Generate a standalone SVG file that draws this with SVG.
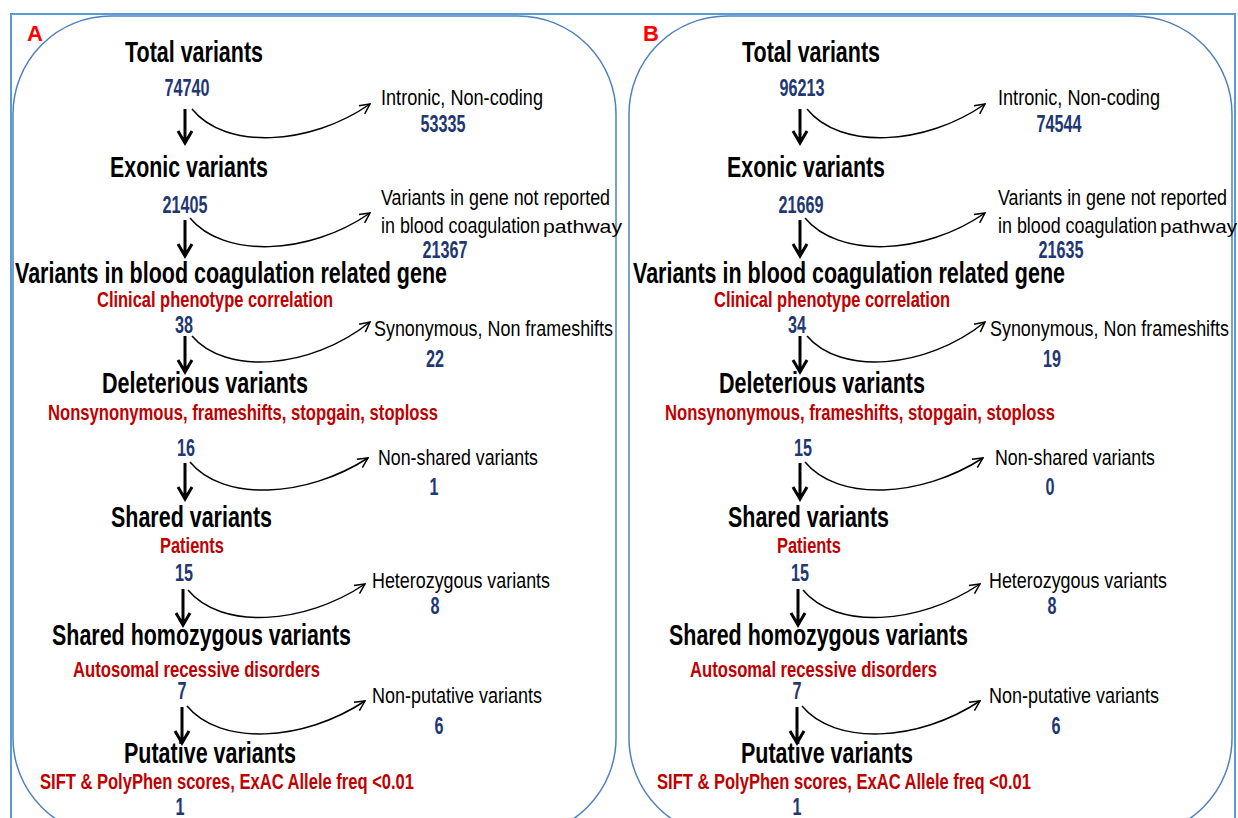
<svg xmlns="http://www.w3.org/2000/svg" width="1238" height="818" viewBox="0 0 1238 818">
<defs>
<marker id="open" viewBox="0 0 12 12" refX="11" refY="6" markerWidth="12" markerHeight="12" markerUnits="userSpaceOnUse" orient="auto">
<path d="M1,1 L11,6 L1,11" fill="none" stroke="#000" stroke-width="1.5"/>
</marker>
<style>
.frame{fill:none;stroke:#5b9bd5;stroke-width:2}
.panel{fill:none;stroke:#4f81bd;stroke-width:1.5}
.lbl{font-family:"Liberation Sans",Arial,sans-serif;font-weight:bold;fill:#ff0000;font-size:22px}
.ttl{font-family:"Liberation Sans",Arial,sans-serif;font-weight:bold;fill:#000;font-size:29px}
.sub{font-family:"Liberation Sans",Arial,sans-serif;font-weight:bold;fill:#c00000;font-size:22px}
.num{font-family:"Liberation Sans",Arial,sans-serif;font-weight:bold;fill:#1f3873;font-size:23px;text-anchor:middle}
.side{font-family:"Liberation Sans",Arial,sans-serif;fill:#000;font-size:22px}
.pw{font-family:"Liberation Sans",Arial,sans-serif;fill:#000;font-size:19px}
.down{fill:none;stroke:#000;stroke-width:3}
.curve{fill:none;stroke:#000;stroke-width:1.5;marker-end:url(#open)}
</style>
</defs>
<rect width="1238" height="818" fill="#fff"/>
<rect class="frame" x="11" y="14" width="1224" height="830"/>
<rect class="panel" x="13" y="16" width="603" height="820" rx="98" ry="98"/>
<rect class="panel" x="629" y="16" width="603" height="820" rx="98" ry="98"/>
<text class="lbl" x="27" y="41">A</text>
<text class="lbl" x="643" y="41">B</text>

<g id="panelA">
<g id="a_total"><text class="ttl" x="125" y="62" textLength="138" lengthAdjust="spacingAndGlyphs">Total variants</text><text class="num" x="187" y="96" textLength="45" lengthAdjust="spacingAndGlyphs">74740</text></g>
<g id="a_intronic"><text class="side" x="381" y="105" textLength="162" lengthAdjust="spacingAndGlyphs">Intronic, Non-coding</text><text class="num" x="443" y="132" textLength="45" lengthAdjust="spacingAndGlyphs">53335</text></g>
<g id="a_exonic"><text class="ttl" x="110" y="177" textLength="158" lengthAdjust="spacingAndGlyphs">Exonic variants</text><text class="num" x="185" y="213" textLength="45" lengthAdjust="spacingAndGlyphs">21405</text></g>
<g id="a_notrep"><text class="side" x="381" y="205" textLength="229" lengthAdjust="spacingAndGlyphs">Variants in gene not reported</text><text class="side" x="381" y="233" textLength="159" lengthAdjust="spacingAndGlyphs">in blood coagulation</text><text class="pw" x="543" y="233" textLength="79" lengthAdjust="spacingAndGlyphs">pathway</text><text class="num" x="445" y="258" textLength="45" lengthAdjust="spacingAndGlyphs">21367</text></g>
<g id="a_blood"><text class="ttl" x="15" y="283" textLength="432" lengthAdjust="spacingAndGlyphs">Variants in blood coagulation related gene</text><text class="sub" x="97" y="307" textLength="236" lengthAdjust="spacingAndGlyphs">Clinical phenotype correlation</text><text class="num" x="184" y="333" textLength="18" lengthAdjust="spacingAndGlyphs">38</text></g>
<g id="a_syn"><text class="side" x="374" y="336" textLength="239" lengthAdjust="spacingAndGlyphs">Synonymous, Non frameshifts</text><text class="num" x="435" y="367" textLength="18" lengthAdjust="spacingAndGlyphs">22</text></g>
<g id="a_del"><text class="ttl" x="102" y="393" textLength="206" lengthAdjust="spacingAndGlyphs">Deleterious variants</text><text class="sub" x="48" y="420" textLength="390" lengthAdjust="spacingAndGlyphs">Nonsynonymous, frameshifts, stopgain, stoploss</text><text class="num" x="186" y="456" textLength="18" lengthAdjust="spacingAndGlyphs">16</text></g>
<g id="a_nonshared"><text class="side" x="378" y="465" textLength="160" lengthAdjust="spacingAndGlyphs">Non-shared variants</text><text class="num" x="434" y="495" textLength="9" lengthAdjust="spacingAndGlyphs">1</text></g>
<g id="a_shared"><text class="ttl" x="111" y="527" textLength="161" lengthAdjust="spacingAndGlyphs">Shared variants</text><text class="sub" x="160" y="553" textLength="64" lengthAdjust="spacingAndGlyphs">Patients</text><text class="num" x="184" y="581" textLength="18" lengthAdjust="spacingAndGlyphs">15</text></g>
<g id="a_het"><text class="side" x="372" y="588" textLength="178" lengthAdjust="spacingAndGlyphs">Heterozygous variants</text><text class="num" x="435" y="614" textLength="9" lengthAdjust="spacingAndGlyphs">8</text></g>
<g id="a_hom"><text class="ttl" x="52" y="645" textLength="299" lengthAdjust="spacingAndGlyphs">Shared homozygous variants</text><text class="sub" x="73" y="677" textLength="247" lengthAdjust="spacingAndGlyphs">Autosomal recessive disorders</text><text class="num" x="182" y="699" textLength="9" lengthAdjust="spacingAndGlyphs">7</text></g>
<g id="a_nonput"><text class="side" x="372" y="703" textLength="170" lengthAdjust="spacingAndGlyphs">Non-putative variants</text><text class="num" x="439" y="734" textLength="9" lengthAdjust="spacingAndGlyphs">6</text></g>
<g id="a_put"><text class="ttl" x="124" y="763" textLength="172" lengthAdjust="spacingAndGlyphs">Putative variants</text><text class="sub" x="40" y="789" textLength="374" lengthAdjust="spacingAndGlyphs">SIFT &amp; PolyPhen scores, ExAC Allele freq &lt;0.01</text><text class="num" x="180" y="815" textLength="9" lengthAdjust="spacingAndGlyphs">1</text></g>
</g>

<g id="panelB">
<g id="b_total"><text class="ttl" x="742" y="62" textLength="138" lengthAdjust="spacingAndGlyphs">Total variants</text><text class="num" x="802" y="96" textLength="45" lengthAdjust="spacingAndGlyphs">96213</text></g>
<g id="b_intronic"><text class="side" x="998" y="105" textLength="162" lengthAdjust="spacingAndGlyphs">Intronic, Non-coding</text><text class="num" x="1059" y="132" textLength="45" lengthAdjust="spacingAndGlyphs">74544</text></g>
<g id="b_exonic"><text class="ttl" x="727" y="177" textLength="158" lengthAdjust="spacingAndGlyphs">Exonic variants</text><text class="num" x="801" y="213" textLength="45" lengthAdjust="spacingAndGlyphs">21669</text></g>
<g id="b_notrep"><text class="side" x="998" y="205" textLength="229" lengthAdjust="spacingAndGlyphs">Variants in gene not reported</text><text class="side" x="998" y="233" textLength="159" lengthAdjust="spacingAndGlyphs">in blood coagulation</text><text class="pw" x="1160" y="233" textLength="77" lengthAdjust="spacingAndGlyphs">pathway</text><text class="num" x="1061" y="258" textLength="45" lengthAdjust="spacingAndGlyphs">21635</text></g>
<g id="b_blood"><text class="ttl" x="633" y="283" textLength="432" lengthAdjust="spacingAndGlyphs">Variants in blood coagulation related gene</text><text class="sub" x="714" y="307" textLength="236" lengthAdjust="spacingAndGlyphs">Clinical phenotype correlation</text><text class="num" x="797" y="333" textLength="18" lengthAdjust="spacingAndGlyphs">34</text></g>
<g id="b_syn"><text class="side" x="990" y="336" textLength="239" lengthAdjust="spacingAndGlyphs">Synonymous, Non frameshifts</text><text class="num" x="1052" y="367" textLength="18" lengthAdjust="spacingAndGlyphs">19</text></g>
<g id="b_del"><text class="ttl" x="719" y="393" textLength="206" lengthAdjust="spacingAndGlyphs">Deleterious variants</text><text class="sub" x="665" y="420" textLength="390" lengthAdjust="spacingAndGlyphs">Nonsynonymous, frameshifts, stopgain, stoploss</text><text class="num" x="803" y="456" textLength="18" lengthAdjust="spacingAndGlyphs">15</text></g>
<g id="b_nonshared"><text class="side" x="995" y="465" textLength="160" lengthAdjust="spacingAndGlyphs">Non-shared variants</text><text class="num" x="1050" y="495" textLength="9" lengthAdjust="spacingAndGlyphs">0</text></g>
<g id="b_shared"><text class="ttl" x="728" y="527" textLength="161" lengthAdjust="spacingAndGlyphs">Shared variants</text><text class="sub" x="777" y="553" textLength="64" lengthAdjust="spacingAndGlyphs">Patients</text><text class="num" x="800" y="581" textLength="18" lengthAdjust="spacingAndGlyphs">15</text></g>
<g id="b_het"><text class="side" x="989" y="588" textLength="178" lengthAdjust="spacingAndGlyphs">Heterozygous variants</text><text class="num" x="1052" y="614" textLength="9" lengthAdjust="spacingAndGlyphs">8</text></g>
<g id="b_hom"><text class="ttl" x="669" y="645" textLength="299" lengthAdjust="spacingAndGlyphs">Shared homozygous variants</text><text class="sub" x="690" y="677" textLength="247" lengthAdjust="spacingAndGlyphs">Autosomal recessive disorders</text><text class="num" x="797" y="699" textLength="9" lengthAdjust="spacingAndGlyphs">7</text></g>
<g id="b_nonput"><text class="side" x="989" y="703" textLength="170" lengthAdjust="spacingAndGlyphs">Non-putative variants</text><text class="num" x="1056" y="734" textLength="9" lengthAdjust="spacingAndGlyphs">6</text></g>
<g id="b_put"><text class="ttl" x="741" y="763" textLength="172" lengthAdjust="spacingAndGlyphs">Putative variants</text><text class="sub" x="657" y="789" textLength="374" lengthAdjust="spacingAndGlyphs">SIFT &amp; PolyPhen scores, ExAC Allele freq &lt;0.01</text><text class="num" x="797" y="815" textLength="9" lengthAdjust="spacingAndGlyphs">1</text></g>
</g>

<g id="connectors">
<path class="down" d="M185,109 V141 M178,131 L185,143 L192,131"/>
<path class="down" d="M185,220 V254 M178,244 L185,256 L192,244"/>
<path class="down" d="M185,336 V370 M178,360 L185,372 L192,360"/>
<path class="down" d="M185,463 V497 M178,487 L185,499 L192,487"/>
<path class="down" d="M183,589 V623 M176,613 L183,625 L190,613"/>
<path class="down" d="M182,707 V741 M175,731 L182,743 L189,731"/>
<path class="curve" d="M192,109 C225,150 310,146 370,104"/>
<path class="curve" d="M190,218 C223,258 308,256 370,213"/>
<path class="curve" d="M192,336 C225,375 310,370 370,322"/>
<path class="curve" d="M190,462 C223,502 306,498 368,458"/>
<path class="curve" d="M188,590 C221,630 304,625 365,584"/>
<path class="curve" d="M187,706 C220,746 303,742 365,701"/>

<path class="down" d="M800,109 V141 M793,131 L800,143 L807,131"/>
<path class="down" d="M800,220 V254 M793,244 L800,256 L807,244"/>
<path class="down" d="M800,336 V370 M793,360 L800,372 L807,360"/>
<path class="down" d="M800,463 V497 M793,487 L800,499 L807,487"/>
<path class="down" d="M798,589 V623 M791,613 L798,625 L805,613"/>
<path class="down" d="M797,707 V741 M790,731 L797,743 L804,731"/>
<path class="curve" d="M807,109 C840,150 925,146 985,104"/>
<path class="curve" d="M805,218 C838,258 923,256 985,213"/>
<path class="curve" d="M807,336 C840,375 925,370 985,322"/>
<path class="curve" d="M805,462 C838,502 921,498 983,458"/>
<path class="curve" d="M803,590 C836,630 919,625 980,584"/>
<path class="curve" d="M802,706 C835,746 918,742 980,701"/>
</g>
</svg>
